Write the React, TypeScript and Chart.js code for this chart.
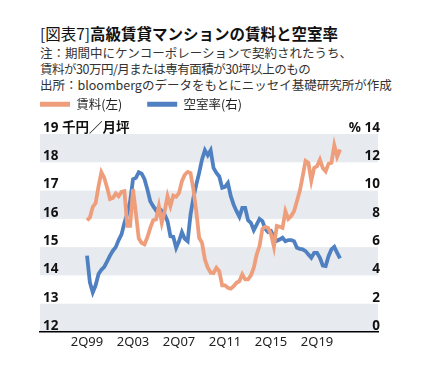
import React, { useEffect, useRef } from 'react';
import { Chart, registerables } from 'chart.js';

Chart.register(...registerables);

const quarters = [
  '2Q99', '3Q99', '4Q99',
  '1Q00', '2Q00', '3Q00', '4Q00', '1Q01', '2Q01', '3Q01', '4Q01',
  '1Q02', '2Q02', '3Q02', '4Q02', '1Q03', '2Q03', '3Q03', '4Q03',
  '1Q04', '2Q04', '3Q04', '4Q04', '1Q05', '2Q05', '3Q05', '4Q05',
  '1Q06', '2Q06', '3Q06', '4Q06', '1Q07', '2Q07', '3Q07', '4Q07',
  '1Q08', '2Q08', '3Q08', '4Q08', '1Q09', '2Q09', '3Q09', '4Q09',
  '1Q10', '2Q10', '3Q10', '4Q10', '1Q11', '2Q11', '3Q11', '4Q11',
  '1Q12', '2Q12', '3Q12', '4Q12', '1Q13', '2Q13', '3Q13', '4Q13',
  '1Q14', '2Q14', '3Q14', '4Q14', '1Q15', '2Q15', '3Q15', '4Q15',
  '1Q16', '2Q16', '3Q16', '4Q16', '1Q17', '2Q17', '3Q17', '4Q17',
  '1Q18', '2Q18', '3Q18', '4Q18', '1Q19', '2Q19', '3Q19', '4Q19',
  '1Q20', '2Q20', '3Q20', '4Q20', '1Q21', '2Q21',
];

// 賃料 (千円/月坪, left axis)
const rent = [
  15.95, 16.05, 16.42, 16.56, 17.15, 17.65, 17.45, 17.1, 16.7, 16.74,
  16.9, 16.8, 16.95, 16.98, 15.75, 15.75, 17.05, 16.2, 15.3, 15.15,
  15.1, 15.35, 15.68, 15.95, 15.98, 16.45, 15.86, 16.27, 16.8, 16.45,
  16.82, 16.78, 16.92, 17.33, 17.56, 17.66, 17.62, 17.04, 16.27, 15.33,
  15.15, 14.56, 14.27, 14.1, 14.09, 14.27, 14.15, 13.65, 13.65, 13.56,
  13.53, 13.62, 13.74, 13.8, 14.04, 13.86, 13.86, 14.0, 14.27, 14.74,
  15.04, 15.65, 15.72, 15.68, 15.45, 15.01, 15.75, 15.72, 15.68, 16.27,
  16.0, 16.1, 16.27, 16.62, 16.98, 17.5, 18.05, 17.98, 17.35, 17.8,
  17.86, 18.09, 17.8, 17.68, 17.95, 17.98, 18.6, 18.2, 18.45,
];

// 空室率 (%, right axis)
const vacancy = [
  5.4, 3.5, 2.8, 3.3, 4.1, 4.4, 4.6, 5.0, 5.4, 5.75,
  6.0, 6.5, 6.9, 7.7, 8.38, 9.25, 10.8, 10.9, 11.3, 11.2,
  10.8, 10.07, 9.25, 8.9, 8.6, 8.78, 8.54, 8.3, 7.84, 6.78,
  6.73, 5.95, 6.42, 7.06, 6.59, 6.42, 8.3, 9.48, 10.42, 11.25,
  12.2, 12.85, 12.5, 12.85, 11.6, 11.25, 11.0, 10.19, 10.26, 10.54,
  9.6, 9.0, 8.54, 8.14, 8.78, 8.78, 7.9, 7.72, 7.2, 7.6,
  8.0, 7.84, 7.3, 7.06, 7.13, 6.73, 6.45, 6.54, 6.66, 6.42,
  6.5, 6.5, 6.42, 5.95, 5.88, 5.84, 5.72, 5.48, 5.25, 5.6,
  5.6, 5.25, 4.7, 4.66, 5.36, 5.84, 6.02, 5.6, 5.2,
];

const xTickLabels = ['2Q99', '2Q03', '2Q07', '2Q11', '2Q15', '2Q19'];
const seriesNames = ['賃料(左)', '空室率(右)'];
const leftUnit = '千円／月坪';
const rightUnit = '%';

const ORANGE = '#EF9E7C';
const BLUE = '#4F80C2';
const BAND = '#E7EAEE';
const FONT = "'Noto Sans', 'Noto Sans CJK JP', sans-serif";
const JP = "'Noto Sans CJK JP', 'Noto Sans', sans-serif";

const bandsPlugin = {
  id: 'bands',
  beforeDraw(chart: any) {
    const { ctx, chartArea } = chart;
    const y = chart.scales.y;
    ctx.save();
    ctx.fillStyle = BAND;
    for (let v = y.min; v < y.max; v += 2) {
      const top = y.getPixelForValue(v + 1);
      const bottom = y.getPixelForValue(v);
      ctx.fillRect(chartArea.left, top, chartArea.right - chartArea.left, bottom - top);
    }
    ctx.restore();
  },
};

const legendGapPlugin = {
  id: 'legendGap',
  beforeInit(chart: any) {
    const lg = chart.legend;
    if (!lg) return;
    const orig = lg.fit.bind(lg);
    lg.fit = () => {
      orig();
      lg.height += 13.5;
    };
  },
};

function ChartCanvas() {
  const ref = useRef<HTMLCanvasElement | null>(null);
  useEffect(() => {
    if (!ref.current) return;
    const tickPositions = xTickLabels.map((l) => quarters.indexOf(l));
    const chart = new Chart(ref.current, {
      type: 'line',
      data: {
        datasets: [
          {
            label: seriesNames[0],
            data: rent.map((v, i) => ({ x: i, y: v })),
            borderColor: ORANGE,
            backgroundColor: ORANGE,
            borderWidth: 3.8,
            pointRadius: 0,
            tension: 0,
            yAxisID: 'y',
          },
          {
            label: seriesNames[1],
            data: vacancy.map((v, i) => ({ x: i, y: v })),
            borderColor: BLUE,
            backgroundColor: BLUE,
            borderWidth: 3.8,
            pointRadius: 0,
            tension: 0,
            yAxisID: 'y1',
          },
        ],
      },
      options: {
        responsive: false,
        animation: false,
        layout: { padding: { left: 15, right: 44, top: 0, bottom: 22 } },
        plugins: {
          tooltip: { enabled: false },
          legend: {
            display: true,
            position: 'top',
            align: 'start',
            labels: {
              boxWidth: 30,
              boxHeight: 5,
              padding: 25,
              color: '#222',
              font: { family: JP, size: 12.5 },
              generateLabels: (c: any) =>
                Chart.defaults.plugins.legend.labels
                  .generateLabels(c)
                  .map((l: any) => ({ ...l, lineWidth: 0 })),
            },
          },
        },
        scales: {
          x: {
            type: 'linear',
            min: -16.35,
            max: 101.2,
            grid: { display: false, drawTicks: false },
            border: { display: true, color: '#000', width: 1.5 },
            afterBuildTicks: (scale: any) => {
              scale.ticks = tickPositions.map((v) => ({ value: v }));
            },
            afterFit: (scale: any) => {
              scale.height = 20;
            },
            ticks: {
              padding: 2,
              color: '#222',
              font: { family: FONT, size: 13 },
              maxRotation: 0,
              autoSkip: false,
              callback: (value: any) => quarters[value as number] ?? '',
            },
          },
          y: {
            type: 'linear',
            position: 'left',
            min: 12,
            max: 19,
            grid: { display: false, drawTicks: false },
            border: { display: false },
            afterFit: (scale: any) => {
              scale.width = 25;
            },
            ticks: {
              mirror: true,
              stepSize: 1,
              padding: 3,
              labelOffset: -6,
              color: '#111',
              font: { family: FONT, size: 13.5, weight: 'bold' },
              callback: (value: any) => (value === 19 ? `19 ${leftUnit}` : String(value)),
            },
          },
          y1: {
            type: 'linear',
            position: 'right',
            min: 0,
            max: 14,
            grid: { display: false, drawTicks: false },
            border: { display: false },
            afterFit: (scale: any) => {
              scale.width = 0;
            },
            ticks: {
              mirror: true,
              stepSize: 2,
              padding: 2,
              labelOffset: -6,
              color: '#111',
              font: { family: FONT, size: 13.5, weight: 'bold' },
              callback: (value: any) => (value === 14 ? `${rightUnit} 14` : String(value)),
            },
          },
        },
      },
      plugins: [bandsPlugin, legendGapPlugin],
    } as any);
    return () => chart.destroy();
  }, []);
  return (
    <canvas
      ref={ref}
      width={422}
      height={301}
      style={{ position: 'absolute', left: 0, top: 73, width: 422, height: 301 }}
    />
  );
}

export default function App() {
  return (
    <div
      style={{
        position: 'absolute',
        left: 0,
        top: 0,
        width: 422,
        height: 374,
        background: '#fff',
        overflow: 'hidden',
        fontFamily: JP,
        color: '#222',
      }}
    >
      <div
        style={{
          position: 'absolute',
          left: 40,
          top: 23,
          fontSize: 15.5,
          lineHeight: '20px',
          whiteSpace: 'nowrap',
          color: '#111',
          fontWeight: 700,
        }}
      >
        <span style={{ fontWeight: 400 }}>[図表7]</span>
        高級賃貸マンションの賃料と空室率
      </div>
      <div
        style={{
          position: 'absolute',
          left: 40,
          top: 45,
          fontSize: 12.5,
          lineHeight: '16px',
          whiteSpace: 'nowrap',
          color: '#333',
        }}
      >
        <div>注：期間中にケンコーポレーションで契約されたうち、</div>
        <div style={{ letterSpacing: '-0.5px' }}>賃料が30万円/月または専有面積が30坪以上のもの</div>
        <div>出所：bloombergのデータをもとにニッセイ基礎研究所が作成</div>
      </div>
      <ChartCanvas />
    </div>
  );
}
